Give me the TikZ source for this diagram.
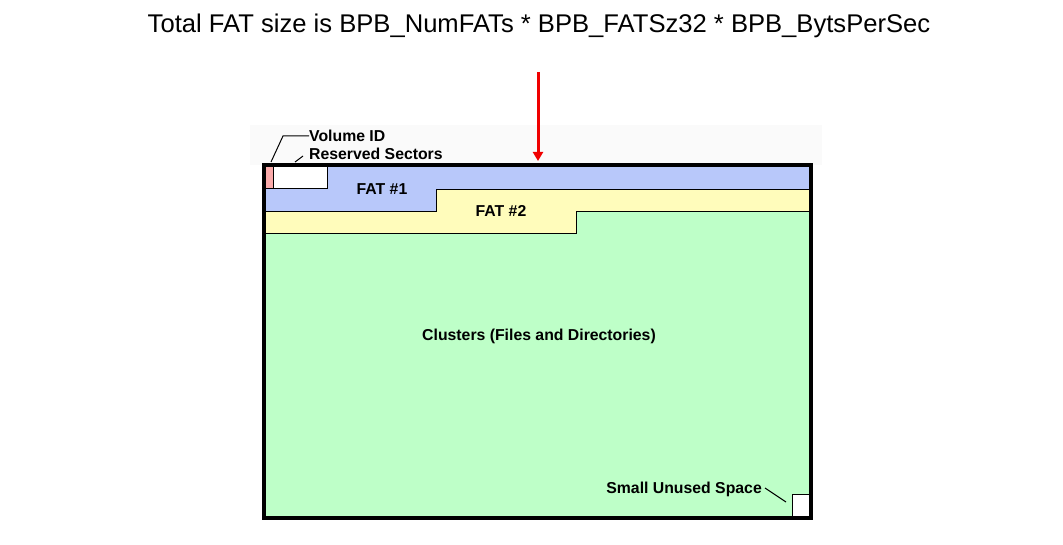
\documentclass[tikz,border=0pt]{standalone}
\usepackage{fontspec}
\setmainfont{Liberation Sans}
\usetikzlibrary{arrows.meta}
\definecolor{fatone}{RGB}{184,200,250}
\definecolor{fattwo}{RGB}{255,252,187}
\definecolor{clus}{RGB}{190,255,200}
\definecolor{volid}{RGB}{250,170,170}
\definecolor{arrowred}{RGB}{240,0,0}
\tikzset{
  region/.style={draw=black, line width=1pt},
  lbl/.style={font=\bfseries\fontsize{15.8}{18}\selectfont, inner sep=0pt},
  leader/.style={draw=black, line width=1pt},
}
\begin{document}
\begin{tikzpicture}[x=1pt,y=-1pt]
\useasboundingbox (0,0) rectangle (1063,545);
\fill[black!2] (250,125) rectangle (822,165);
% title
\node[font=\fontsize{25.6}{29}\selectfont, inner sep=0pt] (title) at (539,26) {Total FAT size is BPB\_NumFATs * BPB\_FATSz32 * BPB\_BytsPerSec};
% regions
\fill[clus] (264,165) rectangle (811,518);
\path[region, fill=fatone] (264,165) -- (811,165) -- (811,190) -- (436,190) -- (436,212) -- (264,212) -- cycle;
\path[region, fill=fattwo] (264,212) -- (436,212) -- (436,190) -- (811,190) -- (811,212) -- (576,212) -- (576,234) -- (264,234) -- cycle;
\path[region, fill=volid] (264,165) rectangle (273,189);
\path[region, fill=white] (273,165) rectangle (327,189);
\path[region, fill=white] (792,494) rectangle (811,518);
\draw[line width=4pt] (264,165) rectangle (811,518);
% labels
\node[lbl] (fat1) at (382,189) {FAT \#1};
\node[lbl] (fat2) at (501,211) {FAT \#2};
\node[lbl] (clusters) at (539,336) {Clusters (Files and Directories)};
\node[lbl, anchor=east] (unused) at (762,489) {Small Unused Space};
\node[lbl, anchor=west] (volume) at (309,136) {Volume ID};
\node[lbl, anchor=west] (reserved) at (309,154) {Reserved Sectors};
% leaders
\coordinate (vtip) at (271,162);
\coordinate (rtip) at (295,162);
\coordinate (utip) at (786,502);
\draw[leader] (vtip) -- (283,136) -- (volume.west);
\draw[leader] (rtip) -- (303,156);
\draw[leader] (765,488) -- (utip);
% red arrow
\coordinate (astart) at (538,72);
\coordinate (aend) at (538,161);
\draw[arrowred, line width=3pt, -{Triangle[length=9pt,width=10pt]}] (astart) -- (aend);
\end{tikzpicture}
\end{document}
